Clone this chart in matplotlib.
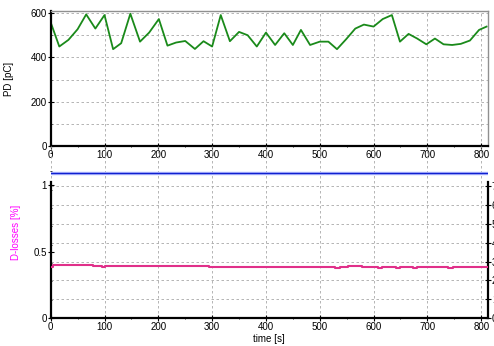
import numpy as np
import matplotlib
matplotlib.use('Agg')
import matplotlib.pyplot as plt
from matplotlib.ticker import MultipleLocator

plt.rcParams['font.family'] = ['Liberation Sans', 'DejaVu Sans']

# PD readings (top panel)
t_pd = [0, 16, 33, 50, 66, 83, 100, 116, 131, 148, 166, 183, 201, 217, 233, 250,
        268, 284, 300, 316, 333, 350, 366, 383, 400, 417, 434, 450, 465, 482,
        500, 516, 532, 549, 566, 582, 600, 617, 634, 649, 665, 681, 698, 714,
        730, 746, 762, 779, 796, 810]
pd = [558, 449, 479, 527, 594, 530, 591, 437, 464, 597, 471, 512, 573, 453, 467, 474,
      438, 473, 449, 591, 473, 515, 500, 449, 512, 456, 509, 456, 524, 456,
      471, 471, 437, 482, 530, 548, 539, 573, 591, 471, 506, 485, 459, 485,
      459, 456, 461, 476, 524, 539]

# D-losses (bottom panel)
t_loss = [0, 5, 78, 95, 100, 295, 528, 538, 552, 578, 608, 616, 642, 650,
          673, 681, 738, 748, 812]
loss = [0.386, 0.396, 0.391, 0.386, 0.389, 0.384, 0.378, 0.384, 0.392, 0.384,
        0.379, 0.384, 0.379, 0.384, 0.379, 0.384, 0.379, 0.384, 0.384]
t_ref = [0, 812]
ref = [1.09, 1.09]

fig = plt.figure(figsize=(4.94, 3.46), dpi=100)
fs = 7
grid_kw = dict(color='#a8a8a8', linestyle=(0, (3, 3)), linewidth=0.6)

# ---- top panel
ax1 = fig.add_axes([0.1026, 0.578, 0.8846, 0.390])
ax1.plot(t_pd, pd, color='#1a8a1a', linewidth=1.3)
ax1.set_xlim(0, 812)
ax1.set_ylim(0, 609)
ax1.set_yticks([0, 200, 400, 600])
ax1.yaxis.set_minor_locator(MultipleLocator(100))
ax1.xaxis.set_major_locator(MultipleLocator(100))
ax1.xaxis.set_minor_locator(MultipleLocator(50))
ax1.grid(True, which='major', axis='x', **grid_kw)
ax1.grid(True, which='minor', axis='y', **grid_kw)
ax1.grid(True, which='major', axis='y', **grid_kw)
ax1.set_ylabel('PD [pC]', fontsize=fs, labelpad=12)
for s in ['top', 'right']:
    ax1.spines[s].set_color('#909090')
    ax1.spines[s].set_linewidth(1.0)
for s in ['left', 'bottom']:
    ax1.spines[s].set_color('black')
    ax1.spines[s].set_linewidth(1.6)
ax1.tick_params(labelsize=fs, direction='inout', length=4, width=0.8, pad=1)
ax1.tick_params(which='minor', direction='inout', length=2, width=0.6)

# ---- bottom panel
ax2 = fig.add_axes([0.1026, 0.0809, 0.8846, 0.497])
ax2.patch.set_alpha(0)
ax2.plot(t_ref, ref, color='#b8c0ff', linewidth=2.5, zorder=2)
ax2.plot(t_ref, ref, color='#1020d0', linewidth=1.0, zorder=3)
ax2.plot(t_loss, loss, color='#e0308a', linewidth=1.5, drawstyle='steps-post', zorder=3)
ax2.set_xlim(0, 812)
ax2.set_ylim(0, 1.293)
ax2.set_yticks([0, 0.5, 1])
ax2.set_yticklabels(['0', '0.5', '1'])
ax2.yaxis.set_minor_locator(MultipleLocator(0.138))
ax2.xaxis.set_major_locator(MultipleLocator(100))
ax2.xaxis.set_minor_locator(MultipleLocator(50))
ax2.grid(True, which='major', axis='x', **grid_kw)
ax2.set_xlabel('time [s]', fontsize=fs, labelpad=1)
ax2.set_ylabel('D-losses [%]', fontsize=fs, color='#ff00ff', labelpad=9)
ax2.spines['top'].set_visible(False)
ax2.spines['right'].set_visible(False)
ax2.spines['left'].set_bounds(0, 1.02)
for s in ['left', 'bottom']:
    ax2.spines[s].set_color('black')
    ax2.spines[s].set_linewidth(1.6)
ax2.tick_params(labelsize=fs, direction='inout', length=4, width=0.8, pad=1)
ax2.tick_params(which='minor', direction='inout', length=2, width=0.6)

# right-hand scale, mostly cut off by the figure edge as in the original
ax3 = ax2.twinx()
ax3.set_ylim(0, 9.15)
ax3.set_yticks(range(0, 8))
ax3.grid(True, which='major', axis='y', **grid_kw)
ax3.set_zorder(ax2.get_zorder() - 1)
for s in ['top', 'left', 'bottom']:
    ax3.spines[s].set_visible(False)
ax3.spines['right'].set_bounds(0, 7.23)
ax3.spines['right'].set_color('black')
ax3.spines['right'].set_linewidth(1.6)
ax3.tick_params(labelsize=fs, direction='inout', length=4, width=0.8, pad=1)

fig.savefig('out.png', dpi=100)
